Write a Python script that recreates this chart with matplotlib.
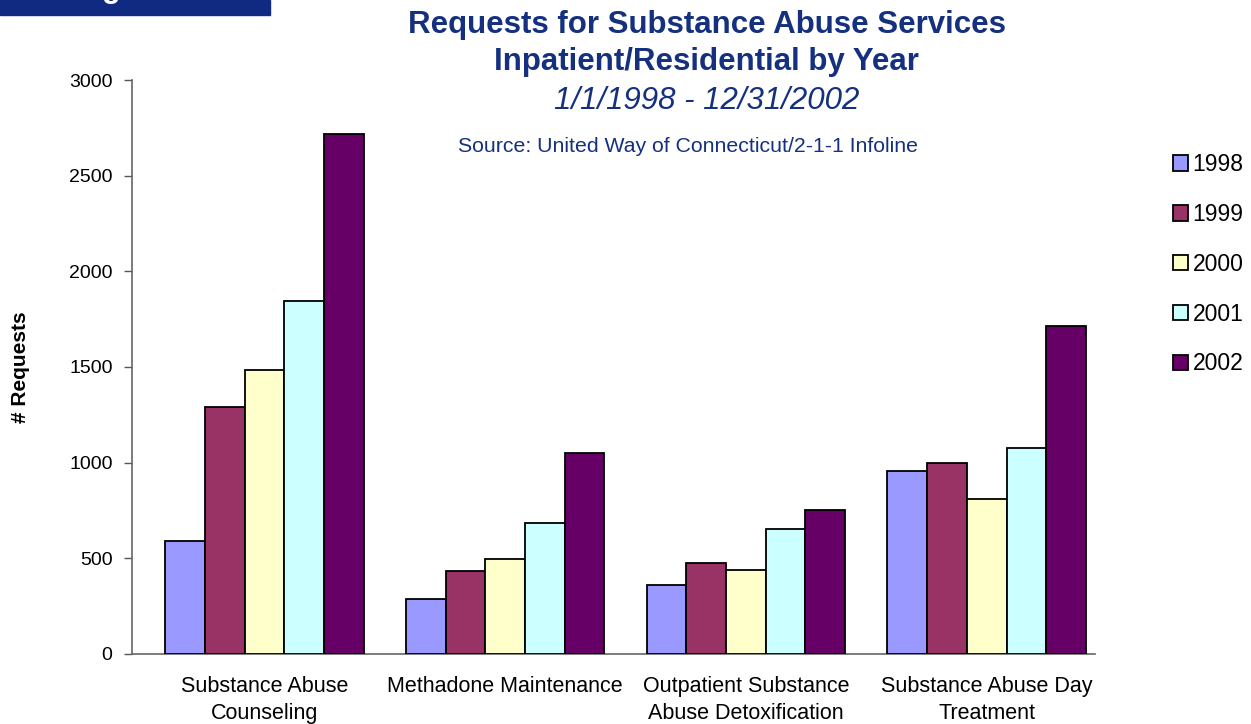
import numpy as np
import matplotlib
matplotlib.use("Agg")
import matplotlib.pyplot as plt
from matplotlib.patches import Rectangle

plt.rcParams["font.family"] = ["Liberation Sans", "DejaVu Sans"]

categories = [
    "Substance Abuse\nCounseling",
    "Methadone Maintenance",
    "Outpatient Substance\nAbuse Detoxification",
    "Substance Abuse Day\nTreatment",
]
years = ["1998", "1999", "2000", "2001", "2002"]
requests_1998 = [590, 290, 360, 955]
requests_1999 = [1290, 432, 474, 998]
requests_2000 = [1482, 496, 438, 808]
requests_2001 = [1846, 686, 652, 1076]
requests_2002 = [2716, 1050, 752, 1714]
series = [requests_1998, requests_1999, requests_2000, requests_2001, requests_2002]
colors = ["#9999FF", "#993366", "#FFFFCC", "#CCFFFF", "#660066"]
yticks = [0, 500, 1000, 1500, 2000, 2500, 3000]

title_color = "#14307F"

fig = plt.figure(figsize=(12.51, 7.24), dpi=100)
ax = fig.add_axes([0.1055, 0.0967, 0.7698, 0.7928])

x = np.arange(len(categories))
width = 0.165
for i, (vals, col, yr) in enumerate(zip(series, colors, years)):
    ax.bar(x + (i - 2) * width, vals, width, color=col, edgecolor="black",
           linewidth=1.3, label=yr, zorder=3)

ax.set_ylim(0, 3000)
ax.set_xlim(-0.55, 3.45)
ax.set_yticks(yticks)
ax.set_yticklabels([str(t) for t in yticks], fontsize=14)
ax.set_xticks(x)
ax.set_xticklabels(categories, fontsize=15.5, linespacing=1.35)
ax.tick_params(axis="x", length=0, pad=16)
ax.tick_params(axis="y", direction="out", length=6, width=1, color="#555555", pad=8)
for side in ("top", "right"):
    ax.spines[side].set_visible(False)
for side in ("left", "bottom"):
    ax.spines[side].set_color("#666666")
    ax.spines[side].set_linewidth(1.2)

ax.set_ylabel("# Requests", fontsize=15, fontweight="bold", labelpad=28)

# titles
fig.text(0.565, 0.966, "Requests for Substance Abuse Services", ha="center", va="center",
         fontsize=22.5, fontweight="bold", color=title_color)
fig.text(0.565, 0.914, "Inpatient/Residential by Year", ha="center", va="center",
         fontsize=22.5, fontweight="bold", color=title_color)
fig.text(0.565, 0.861, "1/1/1998 - 12/31/2002", ha="center", va="center",
         fontsize=22.5, style="italic", color=title_color)
fig.text(0.55, 0.797, "Source: United Way of Connecticut/2-1-1 Infoline", ha="center",
         va="center", fontsize=15.3, color=title_color)

# header strip cut off at the top left
fig.patches.append(Rectangle((0, 1 - 15 / 724), 270 / 1251, 15 / 724,
                             transform=fig.transFigure, color="#0F2A80", zorder=0))
fig.text(0.081, 1 + 3 / 724, "g", ha="left", va="baseline", fontsize=22,
         fontweight="bold", color="white")

leg = ax.legend(loc="upper left", bbox_to_anchor=(1164 / 1251, 1 - 144 / 724),
                bbox_transform=fig.transFigure, frameon=False, fontsize=16.5,
                handlelength=0.65, handleheight=0.65, handletextpad=0.2,
                labelspacing=1.17, borderaxespad=0)

fig.savefig("out.png", dpi=100)
